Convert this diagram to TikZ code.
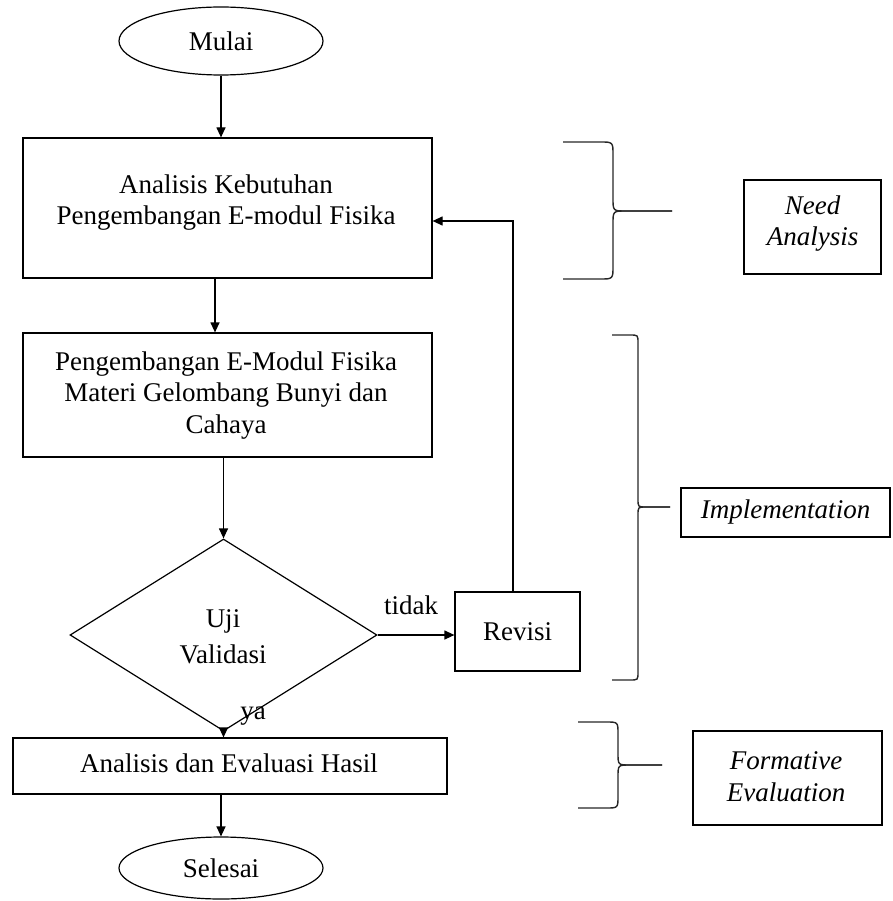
\documentclass[tikz,border=0pt]{standalone}
\usepackage{fontspec}
\setmainfont{Liberation Serif}
\usetikzlibrary{shapes.geometric,arrows.meta}
\newcommand\fs{\fontsize{27}{31.5}\selectfont}
\newcommand\brc[7]{%
  \draw[bracel] (#1,#4) -- ({#2-#7},#4) .. controls (#2,#4) .. (#2,{#4+#7})
     -- (#2,{#5-#7}) .. controls (#2,#5) .. ({#2+#7},#5) -- (#3,#5);
  \draw[bracel] (#1,#6) -- ({#2-#7},#6) .. controls (#2,#6) .. (#2,{#6-#7})
     -- (#2,{#5+#7}) .. controls (#2,#5) .. ({#2+#7},#5) -- (#3,#5);}
\tikzset{
  box/.style={draw, line width=1.2pt, rectangle, inner sep=0pt},
  oval/.style={draw, line width=1.2pt, ellipse, inner sep=0pt, font=\fs},
  txt/.style={font=\fs, align=center, inner sep=0pt},
  itxt/.style={font=\fs\itshape, align=center, inner sep=0pt},
  arr/.style={-{Triangle[length=10pt,width=9pt]}, line width=1.2pt},
  bracel/.style={line width=1.4pt, black!85}
}
\begin{document}
\begin{tikzpicture}[x=1pt,y=-1pt]
\useasboundingbox (0,0) rectangle (892,901);
% main flow
\node[oval, minimum width=204pt, minimum height=68pt] (mulai) at (221,41) {Mulai};
\node[box, minimum width=409pt, minimum height=140pt] (b1) at (227.5,208) {};
\node[txt] (t1) at (226,202.7) {Analisis Kebutuhan\\Pengembangan E-modul Fisika};
\node[box, minimum width=409pt, minimum height=124pt] (b2) at (227.5,395) {};
\node[txt] (t2) at (226,395.3) {Pengembangan E-Modul Fisika\\Materi Gelombang Bunyi dan\\Cahaya};
\node[draw, line width=1.2pt, diamond, inner sep=0pt, minimum width=307pt, minimum height=192pt] (dia) at (223.5,635) {};
\node[txt, font=\fontsize{27}{36}\selectfont] (t3) at (223,637) {Uji\\Validasi};
\node[box, minimum width=125pt, minimum height=79pt, font=\fs] (rev) at (517.5,631.5) {Revisi};
\node[box, minimum width=434pt, minimum height=56pt] (b3) at (230,766) {};
\node[txt, anchor=base] (t4) at (229,772) {Analisis dan Evaluasi Hasil};
\node[oval, minimum width=204pt, minimum height=62pt] (sel) at (221,868) {Selesai};
% labels
\node[txt, anchor=base] (tidak) at (411,614) {tidak};
\node[txt, anchor=base] (ya) at (253,719) {ya};
% connectors
\coordinate (x215) at (215,0);
\coordinate (fb) at (513,221);
\draw[arr] (mulai.south) -- (mulai.south |- b1.north);
\draw[arr] (b1.south -| x215) -- (b2.north -| x215);
\draw[arr] (b2.south -| dia.north) -- (dia.north);
\draw[arr] (dia.east) -- (dia.east -| rev.west);
\draw[arr] (rev.north -| fb) -- (fb) -- (b1.east |- fb);
\draw[arr] (dia.south) -- (dia.south |- b3.north);
\draw[arr] (b3.south -| sel.north) -- (sel.north);
% right side
\brc{563}{613}{672}{142}{211}{279}{13}
\brc{612}{638}{670}{335}{507}{680}{8}
\brc{578}{618}{662}{722}{765}{808}{12}
\node[box, minimum width=137pt, minimum height=94pt] (need) at (812.5,227) {};
\node[itxt] (tneed) at (812.5,223.7) {Need\\Analysis};
\node[box, minimum width=209pt, minimum height=49pt, font=\fs\itshape] (impl) at (785.5,512.5) {Implementation};
\node[box, minimum width=189pt, minimum height=94pt] (form) at (787.5,778) {};
\node[itxt] (tform) at (786,776.5) {Formative\\Evaluation};
\end{tikzpicture}
\end{document}
